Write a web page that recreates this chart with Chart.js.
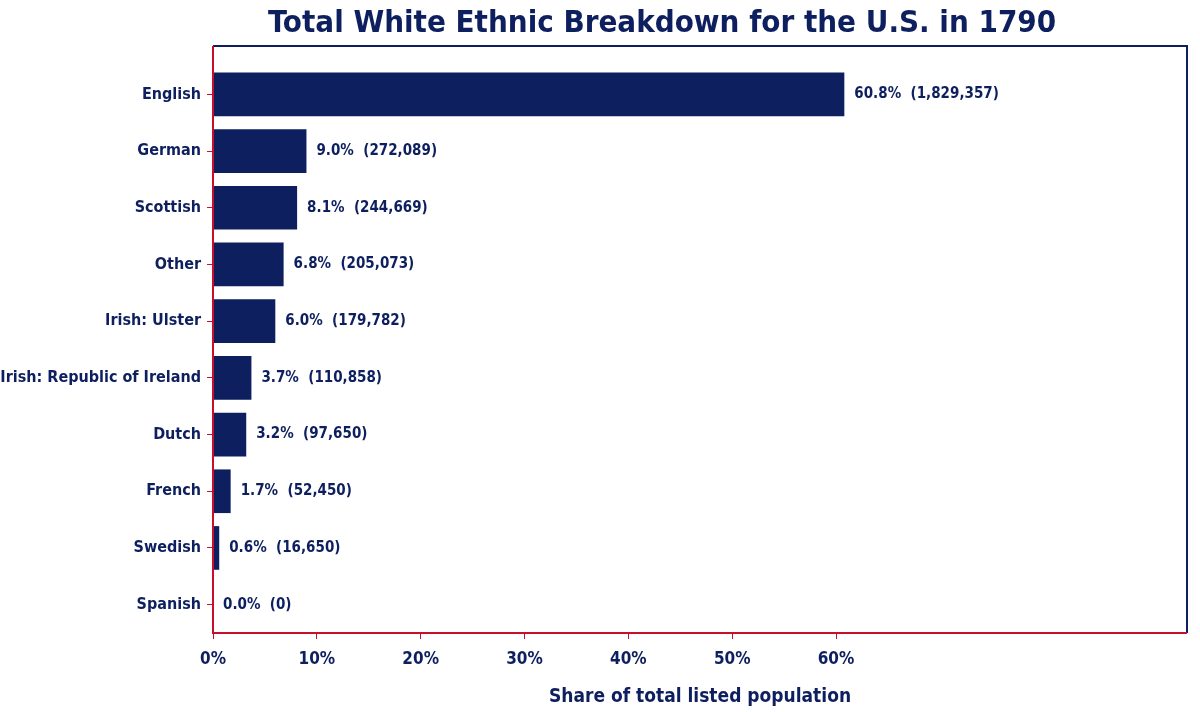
<!DOCTYPE html>
<html>
<head>
<meta charset="utf-8">
<script src="https://cdn.jsdelivr.net/npm/chart.js@4"></script>
<style>
  html, body { margin: 0; padding: 0; background: #fff; }
  #wrap { width: 1200px; height: 712px; }
</style>
</head>
<body>
<div id="wrap"><canvas id="myChart" width="1200" height="712"></canvas></div>
<script>
// data
const groups = ['English', 'German', 'Scottish', 'Other', 'Irish: Ulster',
  'Irish: Republic of Ireland', 'Dutch', 'French', 'Swedish', 'Spanish'];
const shares = [60.8, 9.0, 8.1, 6.8, 6.0, 3.7, 3.2, 1.7, 0.6, 0.0];
const counts = ['1,829,357', '272,089', '244,669', '205,073', '179,782',
  '110,858', '97,650', '52,450', '16,650', '0'];

const navy = '#0d1f5e';
const red = '#c8102e';
const font = "'DejaVu Sans Condensed', 'DejaVu Sans', sans-serif";
const frameTop = 46;

const framePlugin = {
  id: 'frame',
  afterDraw(chart) {
    const ctx = chart.ctx;
    const a = chart.chartArea;
    ctx.save();
    // title
    ctx.fillStyle = navy;
    ctx.font = 'bold 31px ' + font;
    ctx.textAlign = 'center';
    ctx.textBaseline = 'middle';
    ctx.fillText('Total White Ethnic Breakdown for the U.S. in 1790', 662, 24);
    // frame
    ctx.lineWidth = 2;
    ctx.strokeStyle = navy;
    ctx.beginPath();
    ctx.moveTo(a.left, frameTop); ctx.lineTo(a.right, frameTop); ctx.lineTo(a.right, a.bottom);
    ctx.stroke();
    ctx.strokeStyle = red;
    ctx.beginPath();
    ctx.moveTo(a.left, frameTop); ctx.lineTo(a.left, a.bottom); ctx.lineTo(a.right, a.bottom);
    ctx.stroke();
    // value labels
    const meta = chart.getDatasetMeta(0);
    ctx.font = 'bold 15px ' + font;
    ctx.textAlign = 'left';
    meta.data.forEach((bar, i) => {
      ctx.fillText(shares[i].toFixed(1) + '%  (' + counts[i] + ')', bar.x + 10, bar.y);
    });
    ctx.restore();
  }
};

const ctx = document.getElementById('myChart').getContext('2d');
const myChart = new Chart(ctx, {
  type: 'bar',
  data: {
    labels: groups,
    datasets: [{
      data: shares,
      backgroundColor: navy,
      barPercentage: 0.77,
      categoryPercentage: 1.0
    }]
  },
  options: {
    indexAxis: 'y',
    responsive: false,
    animation: false,
    layout: { padding: { top: 66, right: 13, left: 0, bottom: 0 } },
    plugins: { legend: { display: false }, tooltip: { enabled: false } },
    scales: {
      x: {
        min: 0,
        max: 93.8,
        afterBuildTicks(axis) {
          axis.ticks = [0, 10, 20, 30, 40, 50, 60].map(v => ({ value: v }));
        },
        ticks: {
          color: navy,
          font: { family: font, size: 17, weight: 'bold' },
          callback: v => v + '%',
          padding: 10
        },
        grid: { drawOnChartArea: false, color: red, tickLength: 6 },
        border: { display: false },
        title: {
          display: true,
          text: 'Share of total listed population',
          color: navy,
          font: { family: font, size: 19, weight: 'bold' },
          padding: { top: 4 }
        },
        afterFit(axis) { axis.height = 79; }
      },
      y: {
        ticks: {
          color: navy,
          font: { family: font, size: 16, weight: 'bold' },
          padding: 6
        },
        grid: { drawOnChartArea: false, color: red, tickLength: 6, offset: false },
        border: { display: false },
        afterFit(axis) { axis.width = 213; }
      }
    }
  },
  plugins: [framePlugin]
});
</script>
</body>
</html>
